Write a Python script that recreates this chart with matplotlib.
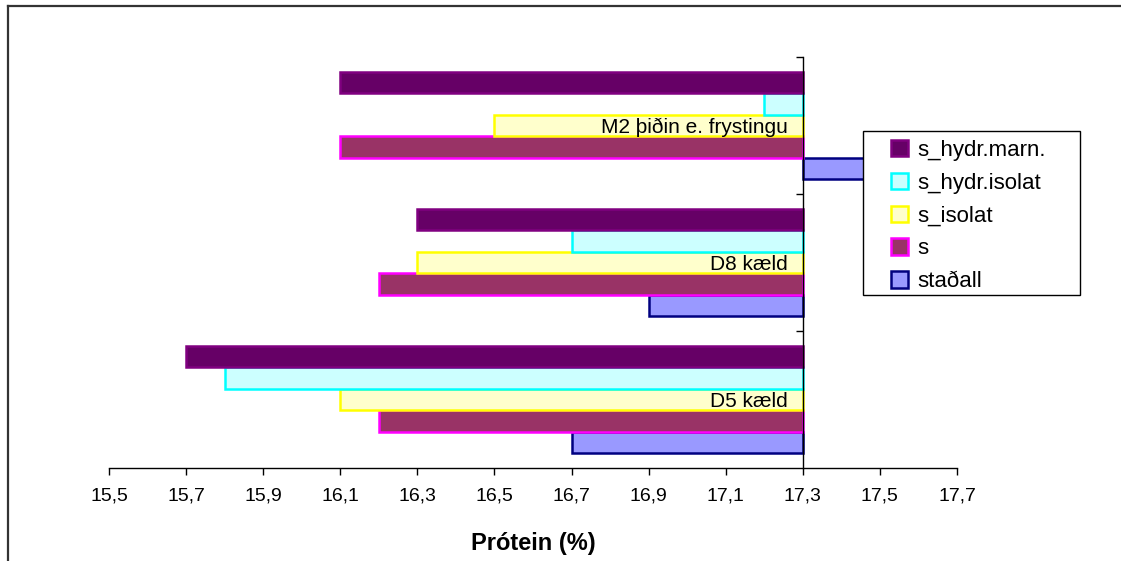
import matplotlib
matplotlib.use("Agg")
import matplotlib.pyplot as plt
from matplotlib.lines import Line2D
from matplotlib.patches import Rectangle
from matplotlib.ticker import FixedLocator, FuncFormatter
import numpy as np

plt.rcParams['font.family'] = ['Liberation Sans', 'DejaVu Sans']

categories = ["D5 kæld", "D8 kæld", "M2 þiðin e. frystingu"]
series_names = ["staðall", "s", "s_isolat", "s_hydr.isolat", "s_hydr.marn."]
stadall = [16.7, 16.9, 17.5]
s_vals = [16.2, 16.2, 16.1]
s_isolat = [16.1, 16.3, 16.5]
s_hydr_isolat = [15.8, 16.7, 17.2]
s_hydr_marn = [15.7, 16.3, 16.1]
x_ticks = [15.5, 15.7, 15.9, 16.1, 16.3, 16.5, 16.7, 16.9, 17.1, 17.3, 17.5, 17.7]
axis_crossing = 17.3

series_values = [stadall, s_vals, s_isolat, s_hydr_isolat, s_hydr_marn]
face_colors = ["#9999FF", "#993366", "#FFFFCC", "#CCFFFF", "#660066"]
edge_colors = ["#000080", "#FF00FF", "#FFFF00", "#00FFFF", "#800080"]

W, H = 1121, 561
fig = plt.figure(figsize=(W / 100, H / 100), dpi=100)
ax = fig.add_axes([109 / W, (H - 468) / H, (957 - 109) / W, (468 - 57) / H])

bar_h = 0.157
y = np.arange(len(categories))
handles = []
for i, (name, vals) in enumerate(zip(series_names, series_values)):
    widths = [v - axis_crossing for v in vals]
    b = ax.barh(y + (i - 2) * bar_h, widths, height=bar_h, left=axis_crossing,
                color=face_colors[i], edgecolor=edge_colors[i], linewidth=1.8,
                label=name, zorder=1)
    handles.append(b)

ax.set_xlim(15.5, 17.7)
ax.set_ylim(-0.5, 2.5)

ax.spines['left'].set_position(('data', axis_crossing))
ax.spines['right'].set_visible(False)
ax.spines['top'].set_visible(False)
for sp in ['left', 'bottom']:
    ax.spines[sp].set_linewidth(1.0)
    ax.spines[sp].set_color('black')

ax.xaxis.set_major_locator(FixedLocator(x_ticks))
ax.xaxis.set_major_formatter(FuncFormatter(lambda v, p: f"{v:.1f}".replace('.', ',')))
ax.tick_params(axis='x', direction='out', length=5, width=1, labelsize=14, pad=9)

ax.set_yticks(y)
ax.set_yticklabels(categories)
ax.yaxis.set_minor_locator(FixedLocator([0.5, 1.5, 2.5]))
ax.tick_params(axis='y', which='major', length=0, labelsize=15, pad=11)
ax.tick_params(axis='y', which='minor', direction='out', length=5, width=1)

ax.set_xlabel("Prótein (%)", fontsize=17, fontweight='bold', labelpad=20)

# legend frame drawn as its own box, legend content placed inside it
fig.add_artist(Rectangle((863 / W, (H - 295) / H), (1080 - 863) / W, (295 - 131) / H,
                         transform=fig.transFigure, facecolor='white',
                         edgecolor='black', linewidth=1.0, zorder=5))
leg = fig.legend(handles[::-1], series_names[::-1],
                 loc='upper left', bbox_to_anchor=(891 / W, (H - 140) / H),
                 fontsize=16, frameon=False,
                 handlelength=0.75, handleheight=0.75, handletextpad=0.45,
                 labelspacing=0.53, borderpad=0, borderaxespad=0)
leg.set_zorder(10)

# outer chart-area frame (cropped at right and bottom)
fig.add_artist(Line2D([8 / W, 8 / W], [-0.05, (H - 6) / H], transform=fig.transFigure,
                      color='#333333', linewidth=1.6))
fig.add_artist(Line2D([8 / W, 1.05], [(H - 6) / H, (H - 6) / H], transform=fig.transFigure,
                      color='#333333', linewidth=1.6))

fig.savefig("out.png", dpi=100)
